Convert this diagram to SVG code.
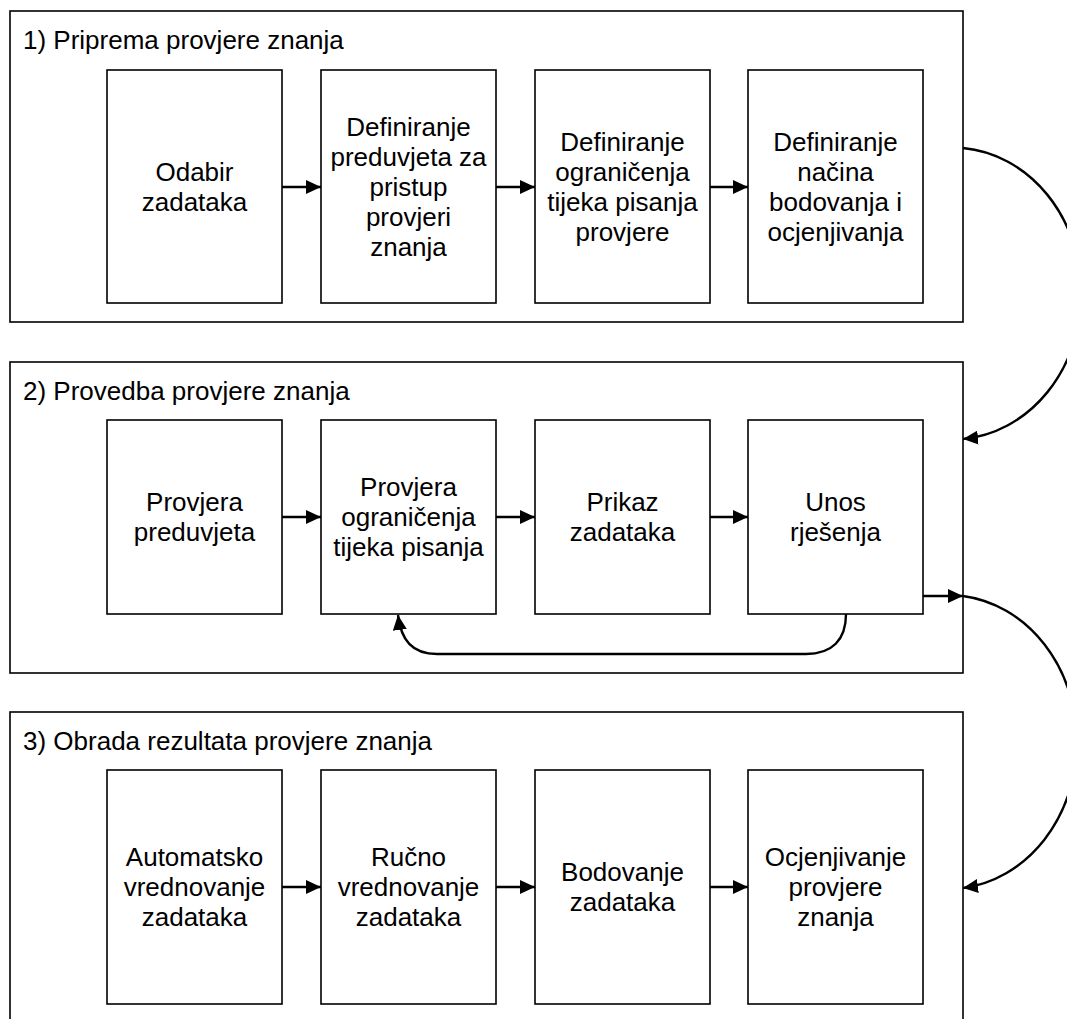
<svg xmlns="http://www.w3.org/2000/svg" width="1067" height="1019" viewBox="0 0 1067 1019">
  <style>
    .stage { fill: #fff; stroke: #000; stroke-width: 1.6; }
    .step { fill: #fff; stroke: #000; stroke-width: 1.6; }
    text { font-family: "Liberation Sans", Arial, sans-serif; font-size: 26px; fill: #000; }
    .lbl { text-anchor: middle; }
    .conn { fill: none; stroke: #000; stroke-width: 2.4; }
  </style>
  <defs>
    <marker id="head" viewBox="0 0 15 14" refX="15" refY="7" markerWidth="15" markerHeight="14" markerUnits="userSpaceOnUse" orient="auto">
      <path d="M0,0 L15,7 L0,14 Z" fill="#000"/>
    </marker>
  </defs>
  <rect width="1067" height="1019" fill="#fff"/>

  <!-- stage 1 -->
  <g id="stage1">
    <rect class="stage" x="10" y="11" width="953" height="311"/>
    <text x="23" y="49">1) Priprema provjere znanja</text>
  </g>
  <g id="odabir">
    <rect class="step" x="107" y="70" width="175" height="233"/>
    <text class="lbl" x="194.5" y="180.5">Odabir</text>
    <text class="lbl" x="194.5" y="210.5">zadataka</text>
  </g>
  <g id="preduvjeti">
    <rect class="step" x="321" y="70" width="175" height="233"/>
    <text class="lbl" x="408.5" y="135.5">Definiranje</text>
    <text class="lbl" x="408.5" y="165.5">preduvjeta za</text>
    <text class="lbl" x="408.5" y="195.5">pristup</text>
    <text class="lbl" x="408.5" y="225.5">provjeri</text>
    <text class="lbl" x="408.5" y="255.5">znanja</text>
  </g>
  <g id="ogranicenja">
    <rect class="step" x="535" y="70" width="175" height="233"/>
    <text class="lbl" x="622.5" y="150.5">Definiranje</text>
    <text class="lbl" x="622.5" y="180.5">ograničenja</text>
    <text class="lbl" x="622.5" y="210.5">tijeka pisanja</text>
    <text class="lbl" x="622.5" y="240.5">provjere</text>
  </g>
  <g id="bodovanje-def">
    <rect class="step" x="748" y="70" width="175" height="233"/>
    <text class="lbl" x="835.5" y="150.5">Definiranje</text>
    <text class="lbl" x="835.5" y="180.5">načina</text>
    <text class="lbl" x="835.5" y="210.5">bodovanja i</text>
    <text class="lbl" x="835.5" y="240.5">ocjenjivanja</text>
  </g>

  <!-- stage 2 -->
  <g id="stage2">
    <rect class="stage" x="10" y="362" width="953" height="311"/>
    <text x="23" y="400">2) Provedba provjere znanja</text>
  </g>
  <g id="provjera-preduvjeta">
    <rect class="step" x="107" y="420" width="175" height="194"/>
    <text class="lbl" x="194.5" y="511">Provjera</text>
    <text class="lbl" x="194.5" y="541">preduvjeta</text>
  </g>
  <g id="provjera-ogranicenja">
    <rect class="step" x="321" y="420" width="175" height="194"/>
    <text class="lbl" x="408.5" y="496">Provjera</text>
    <text class="lbl" x="408.5" y="526">ograničenja</text>
    <text class="lbl" x="408.5" y="556">tijeka pisanja</text>
  </g>
  <g id="prikaz">
    <rect class="step" x="535" y="420" width="175" height="194"/>
    <text class="lbl" x="622.5" y="511">Prikaz</text>
    <text class="lbl" x="622.5" y="541">zadataka</text>
  </g>
  <g id="unos">
    <rect class="step" x="748" y="420" width="175" height="194"/>
    <text class="lbl" x="835.5" y="511">Unos</text>
    <text class="lbl" x="835.5" y="541">rješenja</text>
  </g>

  <!-- stage 3 -->
  <g id="stage3">
    <rect class="stage" x="10" y="712" width="953" height="330"/>
    <text x="23" y="750">3) Obrada rezultata provjere znanja</text>
  </g>
  <g id="automatsko">
    <rect class="step" x="107" y="770" width="175" height="234"/>
    <text class="lbl" x="194.5" y="866">Automatsko</text>
    <text class="lbl" x="194.5" y="896">vrednovanje</text>
    <text class="lbl" x="194.5" y="926">zadataka</text>
  </g>
  <g id="rucno">
    <rect class="step" x="321" y="770" width="175" height="234"/>
    <text class="lbl" x="408.5" y="866">Ručno</text>
    <text class="lbl" x="408.5" y="896">vrednovanje</text>
    <text class="lbl" x="408.5" y="926">zadataka</text>
  </g>
  <g id="bodovanje">
    <rect class="step" x="535" y="770" width="175" height="234"/>
    <text class="lbl" x="622.5" y="881">Bodovanje</text>
    <text class="lbl" x="622.5" y="911">zadataka</text>
  </g>
  <g id="ocjenjivanje">
    <rect class="step" x="748" y="770" width="175" height="234"/>
    <text class="lbl" x="835.5" y="866">Ocjenjivanje</text>
    <text class="lbl" x="835.5" y="896">provjere</text>
    <text class="lbl" x="835.5" y="926">znanja</text>
  </g>

  <!-- connectors -->
  <g id="connectors">
    <path class="conn" d="M282,187 H321" marker-end="url(#head)"/>
    <path class="conn" d="M496,187 H535" marker-end="url(#head)"/>
    <path class="conn" d="M710,187 H748" marker-end="url(#head)"/>

    <path class="conn" d="M282,517 H321" marker-end="url(#head)"/>
    <path class="conn" d="M496,517 H535" marker-end="url(#head)"/>
    <path class="conn" d="M710,517 H748" marker-end="url(#head)"/>

    <path class="conn" d="M282,887 H321" marker-end="url(#head)"/>
    <path class="conn" d="M496,887 H535" marker-end="url(#head)"/>
    <path class="conn" d="M710,887 H748" marker-end="url(#head)"/>

    <!-- loop back from answer entry to constraint check -->
    <path class="conn" d="M846,614 C846,640 832,654 806,654 H437 C412,654 401,640 398,615" marker-end="url(#head)"/>

    <!-- stage 1 to stage 2 -->
    <path class="conn" d="M963,148 A129,146 0 0 1 963,439" marker-end="url(#head)"/>

    <!-- stage 2 to stage 3 -->
    <path class="conn" d="M923,596 H963" marker-end="url(#head)"/>
    <path class="conn" d="M963,596 A129,147 0 0 1 963,888" marker-end="url(#head)"/>
  </g>
</svg>
